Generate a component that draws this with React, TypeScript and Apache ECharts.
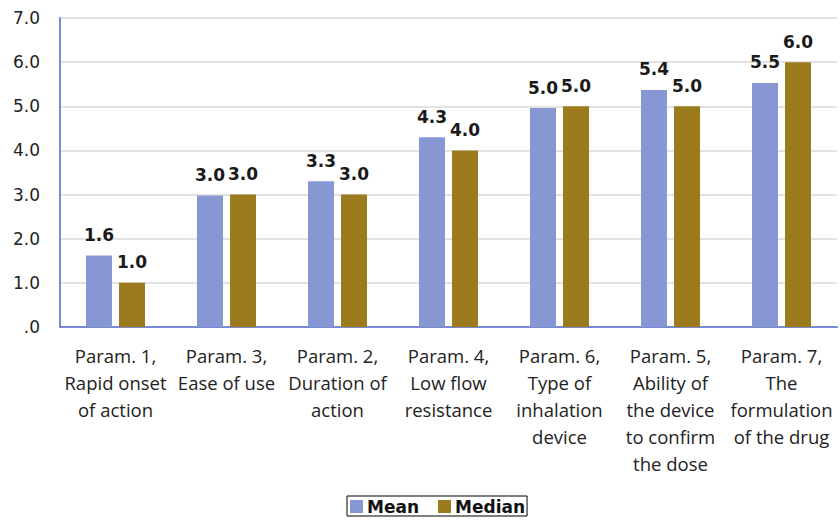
import React, { useEffect, useRef } from "react";
import * as echarts from "echarts";

const categories = [
  "Param. 1,\nRapid onset\nof action",
  "Param. 3,\nEase of use",
  "Param. 2,\nDuration of\naction",
  "Param. 4,\nLow flow\nresistance",
  "Param. 6,\nType of\ninhalation\ndevice",
  "Param. 5,\nAbility of\nthe device\nto confirm\nthe dose",
  "Param. 7,\nThe\nformulation\nof the drug",
];
const meanValues = [1.62, 2.98, 3.3, 4.3, 4.96, 5.37, 5.53];
const medianValues = [1.0, 3.0, 3.0, 4.0, 5.0, 5.0, 6.0];
const seriesNames = ["Mean", "Median"];

export default function App() {
  const ref = useRef<HTMLDivElement>(null);
  useEffect(() => {
    if (!ref.current) return;
    const chart = echarts.init(ref.current, null, { renderer: "svg" });
    const labelStyle = {
      show: true,
      position: "top" as const,
      distance: 12,
      fontFamily: "DejaVu Sans",
      fontWeight: "bold" as const,
      fontSize: 17,
      color: "#1a1a1a",
      formatter: (p: any) => Number(p.value).toFixed(1),
    };
    chart.setOption({
      animation: false,
      backgroundColor: "#ffffff",
      grid: { left: 60, right: 3, top: 18, bottom: 194, containLabel: false },
      legend: {
        top: 496,
        left: 347,
        itemWidth: 13,
        itemHeight: 13,
        itemGap: 19,
        icon: "rect",
        borderColor: "#000",
        borderWidth: 1,
        padding: [2, 2, 1, 3],
        textStyle: {
          fontFamily: "DejaVu Sans",
          fontWeight: "bold",
          fontSize: 17,
          color: "#111",
          padding: [0, 0, 0, -1],
        },
        data: seriesNames,
      },
      xAxis: {
        type: "category",
        data: categories,
        axisLine: { lineStyle: { color: "#7a8ad0", width: 2 } },
        axisTick: { show: false },
        axisLabel: {
          interval: 0,
          margin: 15,
          fontFamily: "Open Sans",
          fontSize: 18.5,
          lineHeight: 27,
          color: "#222",
        },
      },
      yAxis: {
        type: "value",
        min: 0,
        max: 7,
        interval: 1,
        axisLine: { show: true, lineStyle: { color: "#7a8ad0", width: 2 } },
        axisTick: { show: false },
        splitLine: { lineStyle: { color: "#d9d9d9", width: 1.5 } },
        axisLabel: {
          margin: 20,
          fontFamily: "DejaVu Sans",
          fontSize: 17,
          color: "#222",
          formatter: (v: number) => (v === 0 ? ".0" : v.toFixed(1)),
        },
      },
      series: [
        {
          name: seriesNames[0],
          type: "bar",
          data: meanValues,
          barWidth: 26,
          barGap: "27%",
          itemStyle: { color: "#8797d3" },
          label: labelStyle,
        },
        {
          name: seriesNames[1],
          type: "bar",
          data: medianValues,
          barWidth: 26,
          itemStyle: { color: "#9c7b1e" },
          label: labelStyle,
        },
      ],
    });
    return () => chart.dispose();
  }, []);
  return <div ref={ref} style={{ width: 840, height: 521, position: "absolute", left: 0, top: 0 }} />;
}
